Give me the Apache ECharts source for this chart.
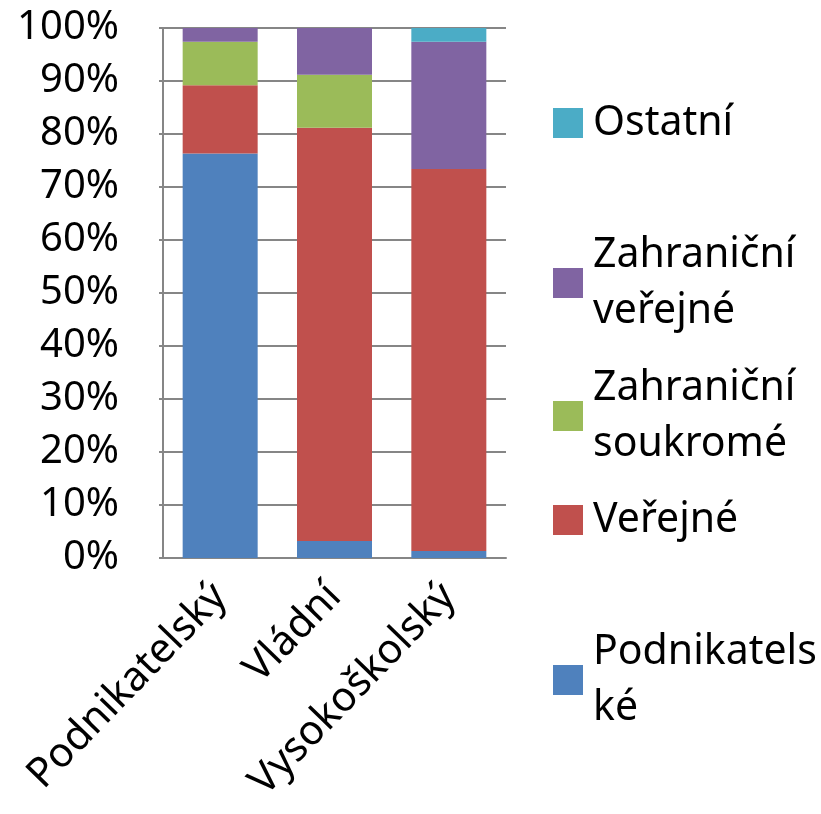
<!DOCTYPE html>
<html>
<head>
<meta charset="utf-8">
<script src="https://cdn.jsdelivr.net/npm/echarts@6/dist/echarts.min.js"></script>
<style>
  html, body { margin: 0; padding: 0; background: #fff; }
  #chart { width: 821px; height: 814px; }
</style>
</head>
<body>
<div id="chart"></div>
<script>
// kategorie (sektory provádění)
const categories = ['Podnikatelský', 'Vládní', 'Vysokoškolský'];

// zdroje financování, v procentech
const podnikatelske = [76.3, 3.2, 1.3];
const verejne = [12.9, 78.0, 72.1];
const zahranicniSoukrome = [8.2, 10.0, 0];
const zahranicniVerejne = [2.6, 8.8, 24.0];
const ostatni = [0, 0, 2.6];

const seriesNames = ['Podnikatelské', 'Veřejné', 'Zahraniční soukromé', 'Zahraniční veřejné', 'Ostatní'];
const seriesValues = [podnikatelske, verejne, zahranicniSoukrome, zahranicniVerejne, ostatni];
const seriesColors = ['#4F81BD', '#C0504D', '#9BBB59', '#8064A2', '#4BACC6'];

// text v legendě (zalomený jako v originále)
const legendLines = {
  'Podnikatelské': ['Podnikatels', 'ké'],
  'Veřejné': ['Veřejné'],
  'Zahraniční soukromé': ['Zahraniční', 'soukromé'],
  'Zahraniční veřejné': ['Zahraniční', 'veřejné'],
  'Ostatní': ['Ostatní']
};
// střed ikonky v legendě
const legendCenters = {
  'Ostatní': 121,
  'Zahraniční veřejné': 253,
  'Zahraniční soukromé': 386,
  'Veřejné': 518,
  'Podnikatelské': 650
};

const yTicks = [0, 10, 20, 30, 40, 50, 60, 70, 80, 90, 100];

const FONT = 'Noto Sans';
const LINE = 56;

const chart = echarts.init(document.getElementById('chart'));

const legends = seriesNames.map(name => {
  const lines = legendLines[name];
  const extra = (lines.length - 1) * LINE;
  return {
    data: [name],
    orient: 'vertical',
    left: 553,
    top: legendCenters[name] - LINE / 2 - extra,
    padding: 0,
    icon: 'rect',
    itemWidth: 30,
    itemHeight: 30,
    selectedMode: false,
    formatter: () => lines.join('\n'),
    textStyle: {
      fontFamily: FONT,
      fontSize: 41,
      color: '#000',
      lineHeight: LINE,
      padding: [extra * 2 + 4, 0, 0, 5]
    }
  };
});

const option = {
  backgroundColor: '#fff',
  animation: false,
  color: seriesColors,
  legend: legends,
  grid: {
    left: 163,
    right: 315,
    top: 28,
    bottom: 256
  },
  xAxis: {
    type: 'category',
    data: categories,
    axisLine: { lineStyle: { color: '#868686', width: 2 } },
    axisTick: { show: false },
    axisLabel: {
      rotate: 46,
      margin: 32,
      fontFamily: FONT,
      fontSize: 41,
      color: '#000',
      interval: 0
    }
  },
  yAxis: {
    type: 'value',
    min: 0,
    max: 100,
    interval: 10,
    axisLine: { show: true, lineStyle: { color: '#868686', width: 2 } },
    axisTick: { show: true, length: 4, lineStyle: { color: '#868686', width: 2 } },
    splitLine: { show: true, lineStyle: { color: '#868686', width: 2 } },
    axisLabel: {
      margin: 44,
      fontFamily: FONT,
      fontSize: 40,
      color: '#000',
      formatter: v => yTicks.includes(v) ? v + '%' : ''
    }
  },
  series: seriesNames.map((name, i) => ({
    name: name,
    type: 'bar',
    stack: 'total',
    barWidth: 75,
    data: seriesValues[i],
    itemStyle: { color: seriesColors[i] }
  }))
};

chart.setOption(option);
</script>
</body>
</html>
